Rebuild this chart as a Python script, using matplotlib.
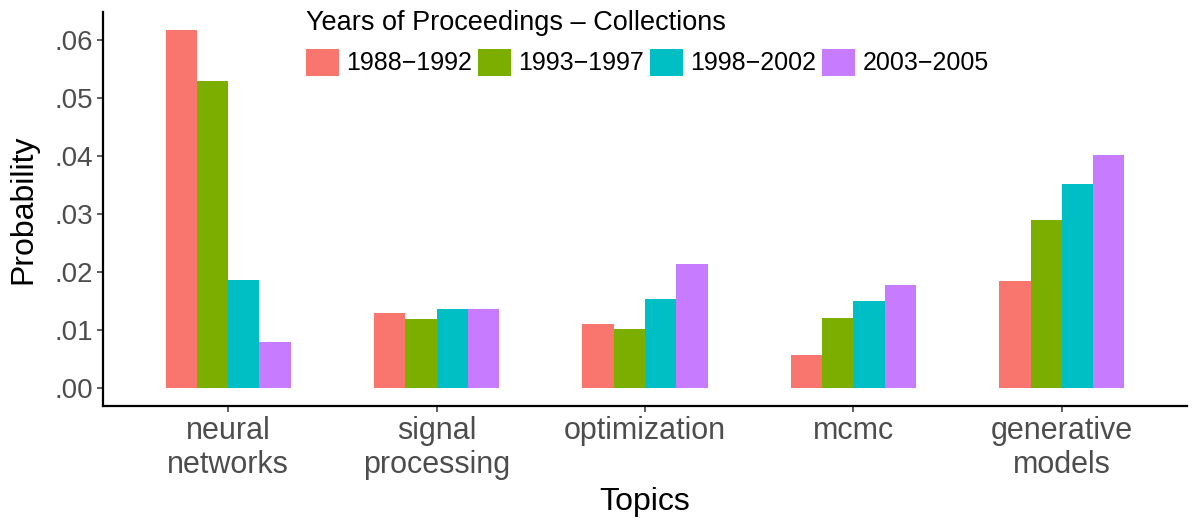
import matplotlib
matplotlib.use("Agg")
import matplotlib.pyplot as plt
import numpy as np
from matplotlib.patches import Patch

topics = ["neural\nnetworks", "signal\nprocessing", "optimization", "mcmc", "generative\nmodels"]
periods = ["1988\u22121992", "1993\u22121997", "1998\u22122002", "2003\u22122005"]
p1988_1992 = [0.0617, 0.0129, 0.0110, 0.0057, 0.0184]
p1993_1997 = [0.0529, 0.0119, 0.0101, 0.0120, 0.0289]
p1998_2002 = [0.0187, 0.0136, 0.0154, 0.0150, 0.0352]
p2003_2005 = [0.0079, 0.0136, 0.0213, 0.0177, 0.0402]
series = [p1988_1992, p1993_1997, p1998_2002, p2003_2005]
colors = ["#F8766D", "#7CAE00", "#00BFC4", "#C77CFF"]
yticks = [0.00, 0.01, 0.02, 0.03, 0.04, 0.05, 0.06]
yticklabels = [".00", ".01", ".02", ".03", ".04", ".05", ".06"]

plt.rcParams["font.family"] = ["Liberation Sans", "DejaVu Sans"]

fig = plt.figure(figsize=(12, 5.25), dpi=100)
ax = fig.add_axes([103 / 1200, 1 - 406 / 525, (1187 - 103) / 1200, (406 - 12) / 525])

x = np.arange(len(topics))
bw = 0.15
for i, (vals, c) in enumerate(zip(series, colors)):
    ax.bar(x + (i - 1.5) * bw, vals, width=bw, color=c, edgecolor="none", linewidth=0)

ymax = max(max(s) for s in series)
pad = 0.05 * ymax
ax.set_ylim(-pad, ymax + pad)
ax.set_xlim(-0.6, len(topics) - 1 + 0.6)

ax.set_xticks(x)
ax.set_xticklabels(topics, fontsize=22, color="#4D4D4D", linespacing=1.2)
ax.set_yticks(yticks)
ax.set_yticklabels(yticklabels, fontsize=20, color="#4D4D4D")
ax.tick_params(axis="both", length=4, width=1.1, color="#333333", pad=3)

for s in ["top", "right"]:
    ax.spines[s].set_visible(False)
for s in ["left", "bottom"]:
    ax.spines[s].set_linewidth(1.6)
    ax.spines[s].set_color("black")

ax.set_xlabel("Topics", fontsize=23, color="black", labelpad=5)
ax.set_ylabel("Probability", fontsize=23, color="black", labelpad=12)

handles = [Patch(facecolor=c, edgecolor="none") for c in colors]
leg = fig.legend(handles, periods, title="Years of Proceedings \u2013 Collections",
                 loc="upper left", bbox_to_anchor=(306 / 1200, 1 - 10 / 525),
                 ncol=4, frameon=False, fontsize=18, title_fontsize=19.5,
                 handlelength=1.3, handleheight=1.3, handletextpad=0.3,
                 columnspacing=0.25, borderpad=0, borderaxespad=0,
                 alignment="left")

fig.savefig("out.png", dpi=100)
